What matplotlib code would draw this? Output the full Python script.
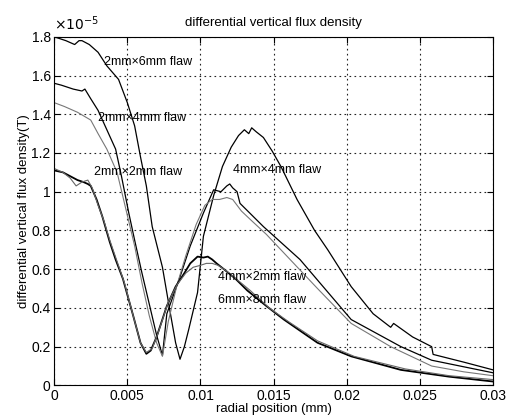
import numpy as np
import matplotlib
matplotlib.use("Agg")
import matplotlib.pyplot as plt
from matplotlib.ticker import FormatStrFormatter

plt.rcParams['font.family'] = ['Liberation Sans', 'DejaVu Sans']
plt.rcParams['xtick.major.pad'] = 2.5
plt.rcParams['ytick.major.pad'] = 2.5

# values in units of 1e-5 T, radial position in the axis units shown
a_x = [0, 0.0008, 0.0014, 0.0017, 0.0019, 0.0024, 0.003, 0.0036, 0.0044, 0.005, 0.0055, 0.0059,
       0.0063, 0.0067, 0.0074, 0.0079, 0.0083, 0.0086, 0.0089, 0.0092, 0.0098, 0.0102, 0.0109,
       0.0115, 0.0121, 0.0126, 0.013, 0.0133, 0.0135, 0.0138, 0.0143, 0.0149, 0.0155, 0.0166,
       0.0178, 0.0187, 0.0203, 0.0218, 0.023, 0.0232, 0.0245, 0.0258, 0.0259, 0.028, 0.03]
a_y = [1.80, 1.78, 1.76, 1.78, 1.78, 1.76, 1.72, 1.65, 1.58, 1.46, 1.34, 1.18,
       1.03, 0.82, 0.61, 0.39, 0.22, 0.135, 0.20, 0.29, 0.48, 0.77, 0.98,
       1.13, 1.23, 1.29, 1.32, 1.30, 1.33, 1.31, 1.28, 1.21, 1.13, 0.96,
       0.80, 0.70, 0.51, 0.37, 0.30, 0.32, 0.25, 0.20, 0.16, 0.12, 0.08]

b_x = [0, 0.0005, 0.0013, 0.0019, 0.0021, 0.0025, 0.003, 0.0036, 0.0042, 0.0046, 0.0051, 0.0055,
       0.006, 0.0065, 0.0070, 0.0074, 0.0077, 0.0086, 0.0093, 0.0102, 0.0109, 0.0114, 0.0118,
       0.012, 0.0122, 0.0125, 0.0127, 0.0135, 0.0143, 0.0168, 0.0203, 0.0237, 0.0258, 0.03]
b_y = [1.56, 1.55, 1.53, 1.52, 1.53, 1.48, 1.42, 1.32, 1.22, 1.08, 0.89, 0.75,
       0.58, 0.42, 0.26, 0.155, 0.37, 0.56, 0.72, 0.89, 1.01, 1.00, 1.03,
       1.04, 1.02, 1.00, 0.94, 0.88, 0.82, 0.65, 0.34, 0.20, 0.13, 0.065]

c_x = [0, 0.0007, 0.0016, 0.0025, 0.003, 0.0036, 0.0043, 0.0049, 0.0055, 0.006, 0.0065, 0.007,
       0.0074, 0.0078, 0.0084, 0.009, 0.0097, 0.0103, 0.0108, 0.0113, 0.0118, 0.0122, 0.0125,
       0.0128, 0.0135, 0.0145, 0.016, 0.018, 0.0203, 0.023, 0.0258, 0.028, 0.03]
c_y = [1.46, 1.44, 1.41, 1.37, 1.30, 1.22, 1.10, 0.91, 0.72, 0.53, 0.36, 0.22,
       0.15, 0.33, 0.52, 0.67, 0.83, 0.93, 0.96, 0.96, 0.97, 0.96, 0.93,
       0.90, 0.85, 0.78, 0.66, 0.50, 0.32, 0.20, 0.10, 0.07, 0.05]

d_x = [0, 0.0006, 0.0011, 0.0016, 0.002, 0.0023, 0.0025, 0.0029, 0.0033, 0.0038, 0.0042, 0.0047,
       0.0054, 0.0059, 0.0063, 0.0066, 0.0070, 0.0077, 0.0083, 0.0089, 0.0093, 0.0098, 0.0102,
       0.0105, 0.0108, 0.0111, 0.0116, 0.0124, 0.0132, 0.0145, 0.0157, 0.018, 0.0203, 0.0237,
       0.027, 0.03]
d_y = [1.11, 1.10, 1.08, 1.06, 1.05, 1.04, 1.03, 0.96, 0.87, 0.74, 0.65, 0.55,
       0.36, 0.22, 0.163, 0.18, 0.25, 0.41, 0.51, 0.58, 0.63, 0.665, 0.66,
       0.665, 0.65, 0.63, 0.60, 0.55, 0.49, 0.41, 0.34, 0.22, 0.15, 0.08,
       0.045, 0.02]

e_x = [0, 0.0006, 0.0011, 0.0015, 0.0019, 0.0023, 0.0026, 0.003, 0.0034, 0.0038, 0.0043, 0.0048,
       0.0054, 0.0059, 0.0063, 0.0067, 0.0071, 0.0078, 0.0084, 0.009, 0.0095, 0.0100, 0.0104,
       0.0108, 0.0112, 0.0118, 0.0126, 0.0134, 0.0147, 0.016, 0.018, 0.0205, 0.024, 0.027, 0.03]
e_y = [1.12, 1.10, 1.07, 1.03, 1.05, 1.06, 1.02, 0.93, 0.85, 0.75, 0.64, 0.53,
       0.36, 0.22, 0.17, 0.19, 0.27, 0.43, 0.52, 0.58, 0.61, 0.62, 0.63,
       0.63, 0.62, 0.59, 0.54, 0.49, 0.40, 0.33, 0.23, 0.15, 0.085, 0.05, 0.03]

labels = ["2mm×6mm flaw", "2mm×4mm flaw", "2mm×2mm flaw",
          "4mm×4mm flaw", "4mm×2mm flaw", "6mm×8mm flaw"]
label_x = [0.0034, 0.0030, 0.0027, 0.0122, 0.0112, 0.0112]
label_y = [1.67, 1.38, 1.10, 1.11, 0.56, 0.44]

fig = plt.figure(figsize=(5.11, 4.18), dpi=100)
ax = fig.add_axes([0.106, 0.078, 0.859, 0.834])

ax.plot(a_x, a_y, color="black", lw=0.9)
ax.plot(b_x, b_y, color="black", lw=0.9)
ax.plot(c_x, c_y, color="#777777", lw=0.8)
ax.plot(d_x, d_y, color="black", lw=1.3)
ax.plot(e_x, e_y, color="#666666", lw=0.8)

for t, x, y in zip(labels, label_x, label_y):
    ax.text(x, y, t, fontsize=9, va="center", ha="left")

ax.set_xlim(0, 0.03)
ax.set_ylim(0, 1.8)
ax.set_xticks([0, 0.005, 0.01, 0.015, 0.02, 0.025, 0.03])
ax.set_yticks(np.arange(0, 1.81, 0.2))
ax.xaxis.set_major_formatter(FormatStrFormatter("%g"))
ax.yaxis.set_major_formatter(FormatStrFormatter("%g"))
ax.tick_params(direction="in", labelsize=10, length=4, top=True, right=True)
ax.grid(True, linestyle=(0, (1.5, 3)), color="#222222", lw=0.8)

ax.text(0.0, 1.01, r"$\times 10^{-5}$", transform=ax.transAxes, fontsize=10,
        ha="left", va="bottom")
ax.set_title("differential vertical flux density", fontsize=9.5, pad=8)
ax.set_xlabel("radial position (mm)", fontsize=9.5, labelpad=0)
ax.set_ylabel("differential vertical flux density(T)", fontsize=9.5, labelpad=1)

fig.savefig("out.png", dpi=100)
